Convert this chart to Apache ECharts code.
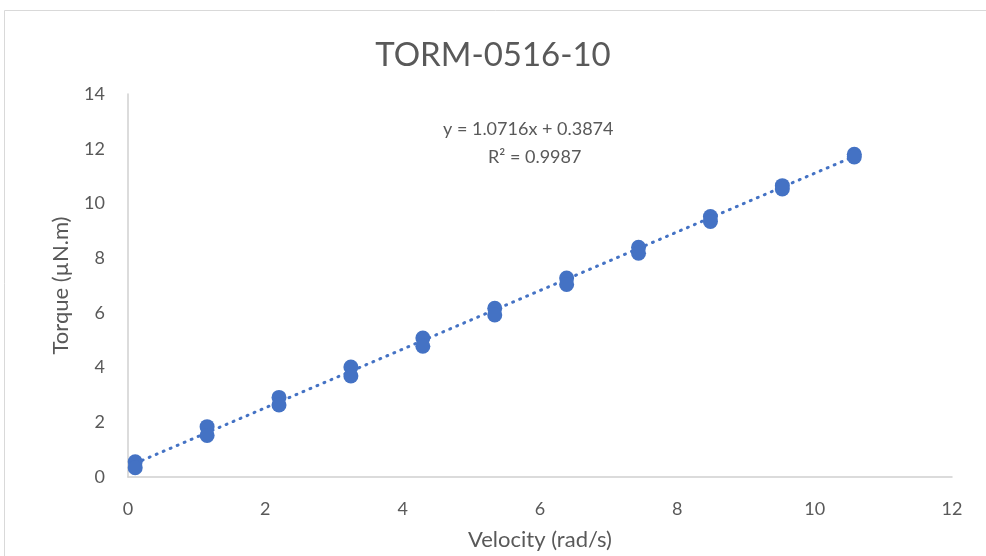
<!DOCTYPE html>
<html>
<head>
<meta charset="utf-8">
<script src="https://cdn.jsdelivr.net/npm/echarts@6/dist/echarts.min.js"></script>
<style>
  html, body { margin: 0; padding: 0; background: #fff; }
  #chart { width: 986px; height: 556px; }
</style>
</head>
<body>
<div id="chart"></div>
<script>
// Motor speed (rad/s) at each test step
const velocity = [0.105, 1.152, 2.199, 3.246, 4.294, 5.341, 6.388, 7.435, 8.482, 9.529, 10.577];
// Measured torque (µN.m), two readings per speed
const torqueRunA = [0.56, 1.84, 2.91, 4.02, 5.08, 6.17, 7.27, 8.40, 9.52, 10.65, 11.80];
const torqueRunB = [0.34, 1.52, 2.63, 3.69, 4.78, 5.92, 7.04, 8.18, 9.34, 10.53, 11.70];
// Linear trendline coefficients
const slope = 1.0716;
const intercept = 0.3874;
const rSquared = 0.9987;
const xTicks = [0, 2, 4, 6, 8, 10, 12];
const yTicks = [0, 2, 4, 6, 8, 10, 12, 14];

const blue = '#4472C4';
const textGray = '#595959';
const font = 'Lato, "Open Sans", sans-serif';

const points = [];
velocity.forEach((v, i) => {
  points.push([v, torqueRunA[i]]);
  points.push([v, torqueRunB[i]]);
});
const xMin = Math.min(...velocity);
const xMax = Math.max(...velocity);
const trend = [[xMin, slope * xMin + intercept], [xMax, slope * xMax + intercept]];

const chart = echarts.init(document.getElementById('chart'), null, { renderer: 'canvas' });
chart.setOption({
  animation: false,
  backgroundColor: '#fff',
  title: {
    text: 'TORM-0516-10',
    left: 'center',
    top: 34,
    textStyle: { fontFamily: font, fontSize: 33, fontWeight: 'normal', color: textGray }
  },
  grid: { left: 128, right: 34, top: 94, bottom: 76, containLabel: false },
  xAxis: {
    type: 'value',
    min: xTicks[0],
    max: xTicks[xTicks.length - 1],
    interval: xTicks[1] - xTicks[0],
    name: 'Velocity (rad/s)',
    nameLocation: 'middle',
    nameGap: 52,
    nameTextStyle: { fontFamily: font, fontSize: 22, color: textGray },
    axisLine: { show: true, lineStyle: { color: '#D0D0D0', width: 1.5 } },
    axisTick: { show: false },
    splitLine: { show: false },
    axisLabel: { margin: 23, fontFamily: font, fontSize: 18, color: textGray }
  },
  yAxis: {
    type: 'value',
    min: yTicks[0],
    max: yTicks[yTicks.length - 1],
    interval: yTicks[1] - yTicks[0],
    name: 'Torque (µN.m)',
    nameLocation: 'middle',
    nameGap: 56,
    nameTextStyle: { fontFamily: font, fontSize: 22, color: textGray },
    axisLine: { show: true, lineStyle: { color: '#D0D0D0', width: 1.5 } },
    axisTick: { show: false },
    splitLine: { show: false },
    axisLabel: { margin: 23, fontFamily: font, fontSize: 18, color: textGray }
  },
  series: [
    {
      name: 'Trendline',
      type: 'line',
      data: trend,
      symbol: 'none',
      z: 3,
      lineStyle: { color: blue, width: 3, type: [1, 6.6], cap: 'round' }
    },
    {
      name: 'Torque',
      type: 'scatter',
      data: points,
      symbolSize: 15,
      z: 4,
      itemStyle: { color: blue, opacity: 1 }
    }
  ],
  graphic: [
    {
      type: 'rect',
      shape: { x: 4.5, y: 10.5, width: 1000, height: 600 },
      style: { fill: 'none', stroke: '#D9D9D9', lineWidth: 1 },
      silent: true,
      z: -1
    },
    {
      type: 'text',
      left: 443,
      top: 120,
      style: {
        text: 'y = ' + slope + 'x + ' + intercept,
        font: '18px ' + font,
        fill: textGray
      }
    },
    {
      type: 'text',
      left: 488,
      top: 148,
      style: {
        text: 'R² = ' + rSquared,
        font: '18px ' + font,
        fill: textGray
      }
    }
  ]
});
</script>
</body>
</html>
